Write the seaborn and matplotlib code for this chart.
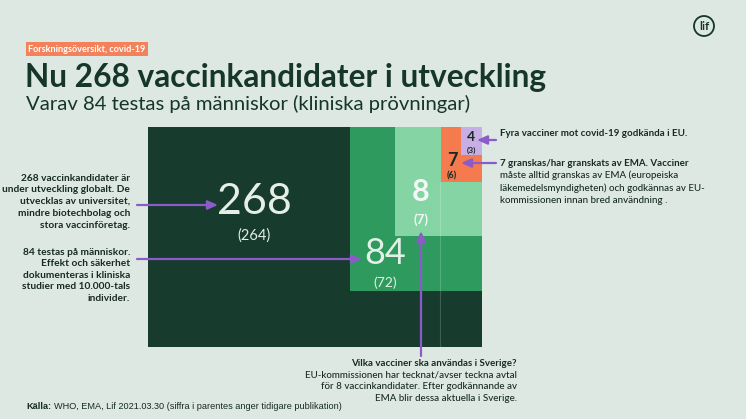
import numpy as np
import pandas as pd
import matplotlib
matplotlib.use("Agg")
import matplotlib.pyplot as plt
import seaborn as sns
from matplotlib.patches import Circle

# values shown in the nested boxes, and earlier published numbers
stages = ["Utveckling", "Kliniska prövningar", "Avtal EU", "Granskas EMA", "Godkända EU"]
values = [268, 84, 8, 7, 4]
previous = [264, 72, 7, 6, 3]

# box layout in pixel space (left, top, right, bottom)
box_left = [148, 350, 395, 441, 461]
box_top = [127, 127, 127, 127, 127]
box_right = [482, 482, 482, 482, 482]
box_bottom = [347, 291, 236, 182, 155]
box_colors = ["#173b2d", "#2e9a5d", "#85d5a4", "#f57b4f", "#c7aee4"]

BG = "#dde8e2"
DARK = "#16362a"
TEXT = "#172b22"
PURPLE = "#8b5cc9"

sns.set_theme(style="white")
plt.rcParams["font.family"] = ["Lato", "DejaVu Sans"]

df = pd.DataFrame({"stage": stages, "value": values, "prev": previous,
                   "left": box_left, "top": box_top, "right": box_right,
                   "bottom": box_bottom, "color": box_colors})
df["width"] = df["right"] - df["left"]
df["height"] = df["bottom"] - df["top"]

fig = plt.figure(figsize=(7.46, 4.19), dpi=100, facecolor=BG)
ax = fig.add_axes([0, 0, 1, 1])
ax.set_facecolor(BG)
ax.set_xlim(0, 746)
ax.set_ylim(419, 0)
ax.axis("off")

ax.bar(df["left"], df["height"], width=df["width"], bottom=df["top"],
       align="edge", color=df["color"], linewidth=0, zorder=2)

# faint seam line through the boxes
ax.plot([440, 440], [182, 347], color="white", alpha=0.18, lw=0.8, zorder=3)

# labels in the boxes
lab = [
    # x, y, y_prev, size, size_prev, color, weight
    (254, 202, 236, 31, 10.5, "#e3efe7", "normal"),
    (385, 253, 283, 26, 10, "#e3efe7", "normal"),
    (421, 192, 220, 22, 9.5, "#f2f8f4", "bold"),
    (452, 160, 176, 13, 6.5, TEXT, "bold"),
    (471, 137, 150, 10, 6, TEXT, "bold"),
]
for (x, y, yp, s, sp, c, w), v, p in zip(lab, df["value"], df["prev"]):
    ax.text(x, y, str(v), ha="center", va="center", fontsize=s, color=c,
            fontweight=w, zorder=4)
    ax.text(x, yp, f"({p})", ha="center", va="center", fontsize=sp, color=c,
            fontweight=w, zorder=4)

# header
ax.text(28, 49, "Forskningsöversikt, covid-19", ha="left", va="center",
        fontsize=6.6, color="white", fontweight="bold",
        bbox=dict(boxstyle="square,pad=0.25", fc="#f3825a", ec="none"))
ax.text(25, 78, "Nu 268 vaccinkandidater i utveckling", ha="left", va="center",
        fontsize=22.8, color=DARK, fontweight="bold")
ax.text(26, 104, "Varav 84 testas på människor (kliniska prövningar)", ha="left",
        va="center", fontsize=14.6, color=DARK)

# logo
ax.add_patch(Circle((704, 26), 10, fill=False, ec=DARK, lw=1.3))
ax.text(704, 26.5, "lif", ha="center", va="center", fontsize=8.5, color=DARK,
        fontweight="bold")


def block(x, y, lines, ha, dy=12, size=7, weights=None):
    for i, line in enumerate(lines):
        w = weights[i] if weights else "bold"
        ax.text(x, y + i * dy, line, ha=ha, va="center", fontsize=size,
                color=TEXT, fontweight=w)


block(130, 178, ["268 vaccinkandidater är", "under utveckling globalt. De",
                 "utvecklas av universitet,", "mindre biotechbolag och",
                 "stora vaccinföretag."], "right", dy=11.8, size=7.25)
block(130, 252, ["84 testas på människor.", "Effekt och säkerhet",
                 "dokumenteras i kliniska", "studier med 10.000-tals",
                 "individer."], "right", dy=11.6, size=7.25)
block(500, 133, ["Fyra vacciner mot covid-19 godkända i EU."], "left")
block(500, 163, ["7 granskas/har granskats av EMA. Vacciner",
                 "måste alltid granskas av EMA (europeiska",
                 "läkemedelsmyndigheten) och godkännas av EU-",
                 "kommissionen innan bred användning ."], "left", dy=12.4,
      weights=["bold", "medium", "medium", "medium"])
block(517, 363, ["Vilka vacciner ska användas i Sverige?",
                 "EU-kommissionen har tecknat/avser teckna avtal",
                 "för 8 vaccinkandidater. Efter godkännande av",
                 "EMA blir dessa aktuella i Sverige."], "right", dy=11.8,
      weights=["bold", "medium", "medium", "medium"])

# arrows
arrow = dict(arrowstyle="-|>,head_length=0.5,head_width=0.22", color=PURPLE,
             lw=1.6, shrinkA=0, shrinkB=0)
for start, end in [((137, 205), (218, 205)), ((137, 259), (362, 259)),
                   ((496, 140), (477, 140)), ((496, 163), (461, 163)),
                   ((421, 356), (421, 231))]:
    ax.annotate("", xy=end, xytext=start, arrowprops=arrow, zorder=5)

# source: bold lead word followed by regular text
src_font = ["Liberation Sans", "DejaVu Sans"]
lead = ax.text(26, 406, "Källa:", ha="left", va="center", fontsize=6.6,
               color=TEXT, fontweight="bold", family=src_font)
fig.canvas.draw()
bb = lead.get_window_extent(fig.canvas.get_renderer())
x_next = ax.transData.inverted().transform((bb.x1, bb.y0))[0] + 3
ax.text(x_next, 406,
        "WHO, EMA, Lif 2021.03.30 (siffra i parentes anger tidigare publikation)",
        ha="left", va="center", fontsize=6.6, color=TEXT, family=src_font)

fig.savefig("out.png", dpi=100, facecolor=BG)
